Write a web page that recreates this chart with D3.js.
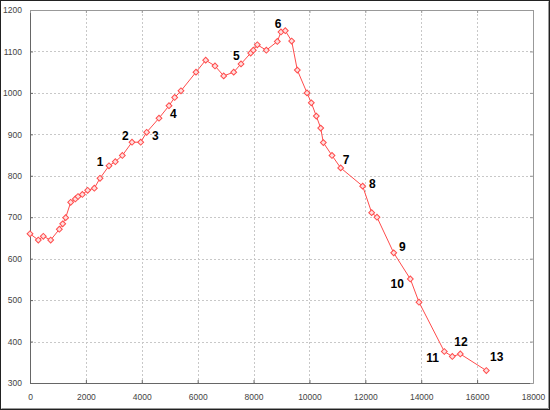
<!DOCTYPE html>
<html>
<head>
<meta charset="utf-8">
<script src="https://cdn.jsdelivr.net/npm/d3@7"></script>
<style>
  body { margin: 0; background: #fff; }
  svg { display: block; }
</style>
</head>
<body>
<svg id="chart" width="550" height="410"></svg>
<script>
// distance (x) and value (y) of each measured point
var xs = [0, 297, 476, 740, 1050, 1170, 1277, 1456, 1622, 1718, 1873, 2063, 2302, 2505,
	2827, 3053, 3304, 3650, 3961, 4175, 4616, 4974, 5178, 5403, 5940, 6287, 6620, 6931,
	7289, 7551, 7897, 7991, 8135, 8457, 8850, 8982, 9136, 9364, 9566, 9913, 10067, 10246,
	10403, 10497, 10807, 11118, 11905, 12227, 12417, 13015, 13610, 13920, 14826, 15112,
	15399, 16329];
var ys = [660, 645, 654, 645, 671, 684, 699, 736, 744, 750, 755, 765, 770, 794,
	824, 834, 849, 881, 881, 905, 939, 969, 989, 1005, 1050, 1079, 1065, 1041,
	1050, 1070, 1096, 1103, 1116, 1103, 1124, 1147, 1150, 1125, 1055, 1000, 976, 944,
	915, 880, 849, 819, 775, 711, 700, 614, 551, 495, 376, 364,
	370, 330];

// numbered callouts
var labelText = ['1', '2', '3', '4', '5', '6', '7', '8', '9', '10', '11', '12', '13'];
var labelX = [2505, 3410, 4484, 5128, 7383, 8874, 11308, 12250, 13323, 13144, 14410, 15423, 16700];
var labelY = [833, 897, 897, 951, 1089, 1168, 840, 780, 628, 539, 362, 399, 364];

var xTicks = [0, 2000, 4000, 6000, 8000, 10000, 12000, 14000, 16000, 18000];
var yTicks = [300, 400, 500, 600, 700, 800, 900, 1000, 1100, 1200];

var width = 550, height = 410;
var margin = {top: 10, right: 17, bottom: 27, left: 30};
var plotW = width - margin.left - margin.right;
var plotH = height - margin.top - margin.bottom;

var svg = d3.select('#chart');

// outer frame of the picture
svg.append('rect')
	.attr('x', 0.5).attr('y', 0.5)
	.attr('width', width - 1).attr('height', height - 1)
	.attr('fill', '#fff')
	.attr('stroke', '#222');
svg.append('path')
	.attr('d', 'M1.5,' + (height - 1.5) + 'H' + (width - 1.5) + 'V1.5')
	.attr('fill', 'none')
	.attr('stroke', '#999');

var g = svg.append('g')
	.attr('transform', 'translate(' + margin.left + ',' + margin.top + ')');

var x = d3.scaleLinear().domain([0, 18000]).range([0, plotW]);
var y = d3.scaleLinear().domain([300, 1200]).range([plotH, 0]);

// dotted grid
g.append('g').selectAll('line').data(xTicks.slice(1, -1)).enter().append('line')
	.attr('x1', function(d) { return Math.round(x(d)) + 0.5; })
	.attr('x2', function(d) { return Math.round(x(d)) + 0.5; })
	.attr('y1', 0).attr('y2', plotH)
	.attr('stroke', '#c8c8c8')
	.attr('stroke-dasharray', '2,2');
g.append('g').selectAll('line').data(yTicks.slice(1, -1)).enter().append('line')
	.attr('y1', function(d) { return Math.round(y(d)) + 0.5; })
	.attr('y2', function(d) { return Math.round(y(d)) + 0.5; })
	.attr('x1', 0).attr('x2', plotW)
	.attr('stroke', '#c8c8c8')
	.attr('stroke-dasharray', '2,2');

// axes: bottom and left with labels, top and right as mirrored ticks only
function styleAxis(sel, color) {
	sel.select('.domain').attr('stroke', color);
	sel.selectAll('.tick line').attr('stroke', color);
	sel.selectAll('.tick text')
		.attr('fill', '#444')
		.style('font-family', 'Liberation Sans, Arial, sans-serif')
		.style('font-size', '8.5px');
}

g.append('g')
	.attr('transform', 'translate(0,' + plotH + ')')
	.call(d3.axisBottom(x).tickValues(xTicks).tickSize(-3).tickSizeOuter(0).tickPadding(11)
		.tickFormat(d3.format('d')))
	.call(styleAxis, '#666');
g.append('g')
	.call(d3.axisLeft(y).tickValues(yTicks).tickSize(-3).tickSizeOuter(0).tickPadding(8)
		.tickFormat(d3.format('d')))
	.call(styleAxis, '#666');
g.append('g')
	.call(d3.axisTop(x).tickValues(xTicks).tickSize(-3).tickSizeOuter(0).tickFormat(''))
	.call(styleAxis, '#999');
g.append('g')
	.attr('transform', 'translate(' + plotW + ',0)')
	.call(d3.axisRight(y).tickValues(yTicks).tickSize(-3).tickSizeOuter(0).tickFormat(''))
	.call(styleAxis, '#999');

// series
var points = xs.map(function(d, i) { return [d, ys[i]]; });
var red = '#ff4c4c';

g.append('path')
	.datum(points)
	.attr('fill', 'none')
	.attr('stroke', red)
	.attr('stroke-width', 1)
	.attr('d', d3.line()
		.x(function(d) { return x(d[0]); })
		.y(function(d) { return y(d[1]); }));

// square turned 45 degrees gives the even diamond of the original
var diamond = d3.symbol().type(d3.symbolSquare).size(17);
g.append('g').selectAll('path').data(points).enter().append('path')
	.attr('transform', function(d) { return 'translate(' + x(d[0]) + ',' + y(d[1]) + ') rotate(45)'; })
	.attr('d', diamond)
	.attr('fill', '#ffe0e0')
	.attr('stroke', red)
	.attr('stroke-width', 1);

// numbered callouts
g.append('g').selectAll('text').data(labelText).enter().append('text')
	.attr('x', function(d, i) { return x(labelX[i]); })
	.attr('y', function(d, i) { return y(labelY[i]); })
	.attr('dy', '0.36em')
	.attr('text-anchor', 'middle')
	.style('font-family', 'Liberation Sans, Arial, sans-serif')
	.style('font-weight', 'bold')
	.style('font-size', '12px')
	.attr('fill', '#000')
	.text(function(d) { return d; });
</script>
</body>
</html>
